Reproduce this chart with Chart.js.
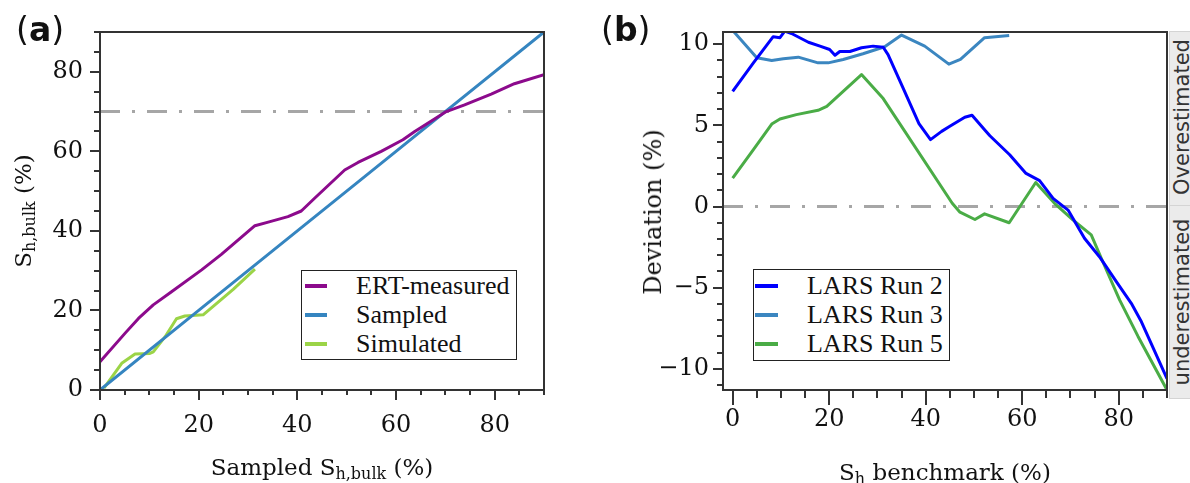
<!DOCTYPE html>
<html>
<head>
<meta charset="utf-8">
<script src="https://cdn.jsdelivr.net/npm/chart.js@4/dist/chart.umd.min.js"></script>
<style>
html,body{margin:0;padding:0;background:#fff;}
body{width:1190px;height:483px;overflow:hidden;position:relative;}
canvas{position:absolute;top:0;}
#ca{left:0;} #cb{left:595px;}
.plab{position:absolute;font-family:"DejaVu Sans";font-size:33px;line-height:33px;color:#111;white-space:nowrap;}
.plab b{font-weight:bold;}
.ttl{position:absolute;font-family:"DejaVu Serif";font-size:23px;line-height:26px;color:#111;white-space:nowrap;}
.ttl sub{font-size:16px;line-height:0;vertical-align:-4px;}
.hc{transform:translateX(-50%);}
.rot{transform:translate(-50%,-50%) rotate(-90deg);}
.legend{position:absolute;box-sizing:border-box;border:1.5px solid #222;background:#fff;}
.legend .ln{position:absolute;height:4px;}
.legend .tx{position:absolute;font-family:"Liberation Serif";font-size:26px;line-height:26px;color:#111;white-space:nowrap;}
.strip{position:absolute;box-sizing:border-box;background:#ebebeb;border:1px solid #d4d4d4;overflow:hidden;}
.stxt{position:absolute;font-family:"DejaVu Sans";font-size:21px;line-height:21px;color:#333;white-space:nowrap;}
</style>
</head>
<body>
<canvas id="ca" width="595" height="483"></canvas>
<canvas id="cb" width="595" height="483"></canvas>

<div class="plab" style="left:16px;top:13px;">(<b>a</b>)</div>
<div class="plab" style="left:601px;top:13px;">(<b>b</b>)</div>

<div class="ttl hc" style="left:322px;top:454px;">Sampled S<sub>h,bulk</sub> (%)</div>
<div class="ttl rot" style="left:23px;top:211px;">S<sub>h,bulk</sub> (%)</div>
<div class="ttl hc" style="left:945px;top:459px;">S<sub>h</sub> benchmark (%)</div>
<div class="ttl rot" style="left:653px;top:212px;font-size:24px;">Deviation (%)</div>

<div class="strip" style="left:1169px;top:31px;width:40px;height:175px;"></div>
<div class="strip" style="left:1169px;top:205px;width:40px;height:194px;"></div>
<div class="stxt rot" style="left:1182px;top:117px;">Overestimated</div>
<div class="stxt rot" style="left:1182px;top:302px;">underestimated</div>

<div id="lega" class="legend" style="left:301px;top:270px;width:216px;height:90px;"></div>
<div id="legb" class="legend" style="left:753px;top:269px;width:197px;height:92px;"></div>

<script>
// ---------- Panel (a) data ----------
const ertX = [0, 5.1, 7.8, 10.8, 14.5, 20.6, 24.6, 31.4, 34.1, 38.1, 40.8, 43.5, 49.6, 52.3, 57, 61.4, 63.8, 70.2, 73.9, 79.3, 84, 90];
const ertY = [7.1, 14.3, 18.0, 21.4, 24.7, 30.2, 34.1, 41.3, 42.2, 43.6, 45.0, 48.2, 55.3, 57.2, 60, 62.9, 65, 70, 71.7, 74.4, 77, 79.3];
const sampledX = [0, 20, 40, 60, 90];
const sampledY = [0, 20, 40, 60, 90];
const simX = [0.8, 4.4, 7.1, 10.1, 10.8, 13.2, 15.5, 17.2, 20.9, 23.3, 27, 31.4];
const simY = [0.5, 6.7, 9.06, 9.2, 9.6, 13.4, 17.9, 18.6, 18.9, 21.4, 25.3, 30.4];
const refAX = [0, 90];
const refAY = [70, 70];
const xTicksA = [0, 20, 40, 60, 80];
const yTicksA = [0, 20, 40, 60, 80];

// ---------- Panel (b) data ----------
const run2X = [0, 4.3, 8.4, 9.8, 10.8, 12.2, 15.7, 18.1, 20.1, 21.2, 22.2, 24.3, 26.7, 29.1, 31.2, 32.2, 35.3, 38.6, 41, 43.3, 45, 48.1, 49.6, 52.2, 53.3, 57.4, 60.7, 63.6, 66.4, 69.5, 72.9, 76, 79.5, 82.6, 84.7, 90];
const run2Y = [7.1, 8.85, 10.46, 10.4, 10.8, 10.66, 10.12, 9.88, 9.67, 9.32, 9.55, 9.55, 9.78, 9.88, 9.81, 9.36, 7.31, 5.1, 4.12, 4.63, 4.94, 5.5, 5.62, 4.73, 4.36, 3.19, 2.06, 1.6, 0.5, -0.22, -1.95, -3.09, -4.63, -5.96, -7.1, -10.6];
const run3X = [0, 5, 8.1, 10.5, 13.6, 17.7, 19.8, 22.9, 27, 31.5, 35, 39.8, 44.8, 47.2, 52.2, 57.3];
const run3Y = [10.85, 9.16, 9.0, 9.1, 9.2, 8.85, 8.85, 9.06, 9.41, 9.84, 10.56, 9.88, 8.77, 9.06, 10.4, 10.54];
const run5X = [0, 4.3, 8.1, 9.8, 13.2, 17.7, 19.5, 26.7, 31.2, 45.5, 47.1, 50.2, 52.2, 57.3, 62.8, 66.7, 70.5, 74.3, 76.7, 80.2, 84, 90];
const run5Y = [1.75, 3.5, 5.08, 5.39, 5.66, 5.93, 6.17, 8.13, 6.65, 0.2, -0.35, -0.8, -0.45, -1.0, 1.48, 0.2, -0.82, -1.75, -3.4, -5.76, -8.0, -11.3];
const refBX = [-2, 90];
const refBY = [0, 0];
const xTicksB = [0, 20, 40, 60, 80];
const yTicksB = [-10, -5, 0, 5, 10];

const pts = (xs, ys) => xs.map((x, i) => ({x: x, y: ys[i]}));
const minus = v => (v < 0 ? '\u2212' + Math.abs(v) : String(v));

const frameTicks = {
  id: 'frameTicks',
  afterDatasetsDraw(chart, args, o) {
    const ctx = chart.ctx, a = chart.chartArea;
    const xs = chart.scales.x, ys = chart.scales.y;
    ctx.save();
    ctx.strokeStyle = '#333';
    ctx.lineWidth = 2;
    ctx.strokeRect(a.left, a.top, a.right - a.left, a.bottom - a.top);
    ctx.beginPath();
    xs.ticks.forEach(t => {
      const px = Math.round(xs.getPixelForValue(t.value));
      const major = o.xMajor.includes(t.value);
      ctx.moveTo(px, a.bottom);
      ctx.lineTo(px, a.bottom + (major ? o.xMajorLen : o.xMinorLen));
    });
    ys.ticks.forEach(t => {
      const py = Math.round(ys.getPixelForValue(t.value));
      const major = o.yMajor.includes(t.value);
      ctx.moveTo(a.left, py);
      ctx.lineTo(a.left - (major ? o.yMajorLen : o.yMinorLen), py);
    });
    ctx.stroke();
    ctx.restore();
  }
};

const tickFont = {family: 'DejaVu Serif', size: 24};

function lineDs(label, data, color, extra) {
  return Object.assign({
    label: label, data: data, borderColor: color, backgroundColor: color,
    borderWidth: 3, pointRadius: 0, tension: 0, fill: false,
    borderJoinStyle: 'round', showLine: true
  }, extra || {});
}

function makeChart(id, datasets, sc, pad, yWidth, xHeight, ft) {
  return new Chart(document.getElementById(id), {
    type: 'scatter',
    data: {datasets: datasets},
    options: {
      responsive: false, animation: false, devicePixelRatio: 1,
      layout: {padding: pad},
      plugins: {legend: {display: false}, tooltip: {enabled: false}, title: {display: false}, frameTicks: ft},
      scales: {
        x: {
          type: 'linear', min: sc.xmin, max: sc.xmax,
          afterFit: s => { s.height = xHeight; },
          border: {display: false},
          grid: {display: true, drawOnChartArea: false, drawTicks: true, tickLength: sc.xTickLen, tickColor: 'rgba(0,0,0,0)'},
          ticks: {stepSize: sc.xStep, includeBounds: false, autoSkip: false, maxRotation: 0, padding: sc.xPad,
            font: tickFont, color: '#111',
            callback: v => (sc.xLabels.includes(v) ? minus(v) : '')}
        },
        y: {
          type: 'linear', min: sc.ymin, max: sc.ymax,
          afterFit: s => { s.width = yWidth; },
          border: {display: false},
          grid: {display: true, drawOnChartArea: false, drawTicks: true, tickLength: sc.yTickLen, tickColor: 'rgba(0,0,0,0)'},
          ticks: {stepSize: sc.yStep, includeBounds: false, autoSkip: false, padding: sc.yPad,
            font: tickFont, color: '#111',
            callback: v => (sc.yLabels.includes(v) ? minus(v) : '')}
        }
      }
    },
    plugins: [frameTicks]
  });
}

const dashStyle = {borderColor: '#a6a6a6', borderWidth: 3, borderDash: [20, 12, 3, 12], hideInLegend: true};

const chartA = makeChart('ca', [
  lineDs('ERT-measured', pts(ertX, ertY), '#8c0a8c'),
  lineDs('Sampled', pts(sampledX, sampledY), '#3585c0'),
  lineDs('Simulated', pts(simX, simY), '#9bd447'),
  lineDs('', pts(refAX, refAY), '#a6a6a6', dashStyle)
], {xmin: 0, xmax: 90, ymin: 0, ymax: 90, xStep: 5, yStep: 5, xLabels: xTicksA, yLabels: yTicksA,
    xTickLen: 10, yTickLen: 10, xPad: 11, yPad: 7},
  {left: 0, top: 32, right: 51, bottom: 0}, 100, 93,
  {xMajor: xTicksA, yMajor: yTicksA, xMajorLen: 10, xMinorLen: 5, yMajorLen: 10, yMinorLen: 6});

const chartB = makeChart('cb', [
  lineDs('LARS Run 2', pts(run2X, run2Y), '#0000ff'),
  lineDs('LARS Run 3', pts(run3X, run3Y), '#3b86c0'),
  lineDs('LARS Run 5', pts(run5X, run5Y), '#4aac46'),
  lineDs('', pts(refBX, refBY), '#a6a6a6', dashStyle)
], {xmin: -2, xmax: 90, ymin: -11.3, ymax: 10.75, xStep: 5, yStep: 1, xLabels: xTicksB, yLabels: yTicksB,
    xTickLen: 15, yTickLen: 10, xPad: 0, yPad: 4},
  {left: 0, top: 32, right: 23, bottom: 0}, 128, 93,
  {xMajor: xTicksB, yMajor: yTicksB, xMajorLen: 15, xMinorLen: 8, yMajorLen: 10, yMinorLen: 6});

function buildLegend(chart, elId, lineLeft, lineW, textLeft, rowTops) {
  const el = document.getElementById(elId);
  chart.data.datasets.filter(d => d.label && !d.hideInLegend).forEach((d, i) => {
    const ln = document.createElement('div');
    ln.className = 'ln';
    ln.style.left = lineLeft + 'px';
    ln.style.width = lineW + 'px';
    ln.style.top = (rowTops[i] - 2) + 'px';
    ln.style.background = d.borderColor;
    el.appendChild(ln);
    const tx = document.createElement('div');
    tx.className = 'tx';
    tx.style.left = textLeft + 'px';
    tx.style.top = (rowTops[i] - 13) + 'px';
    tx.textContent = d.label;
    el.appendChild(tx);
  });
}
buildLegend(chartA, 'lega', 3, 22, 54, [15, 44, 73]);
buildLegend(chartB, 'legb', 1, 23, 53, [16, 45, 74]);
</script>
</body>
</html>
